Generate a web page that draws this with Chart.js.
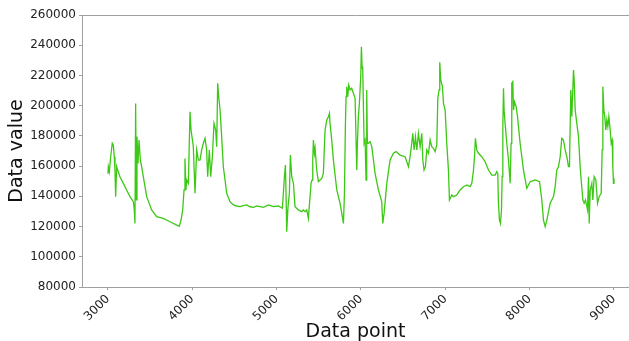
<!DOCTYPE html>
<html>
<head>
<meta charset="utf-8">
<script src="https://cdn.jsdelivr.net/npm/chart.js@4.4.1/dist/chart.umd.min.js"></script>
<style>
  html, body { margin: 0; padding: 0; background: #fff; overflow: hidden; }
  canvas { display: block; }
</style>
</head>
<body>
<canvas id="dataChart" width="629" height="341"></canvas>
<script>
// Data point index and value
const pointIndex = [
  3000, 3004, 3016, 3032, 3051, 3063, 3075, 3083, 3091, 3103, 3115, 3142, 3182, 3221, 3261, 3301,
  3312, 3320, 3328, 3336, 3344, 3356, 3368, 3384, 3399, 3419, 3459, 3518, 3577, 3656, 3735, 3815,
  3846, 3866, 3886, 3902, 3913, 3925, 3933, 3953, 3973, 3985, 4012, 4032, 4052, 4072, 4091, 4111,
  4131, 4151, 4170, 4182, 4202, 4218, 4238, 4257, 4277, 4289, 4301, 4313, 4329, 4348, 4368, 4408,
  4447, 4487, 4526, 4566, 4605, 4645, 4684, 4724, 4764, 4803, 4843, 4902, 4961, 5021, 5068, 5092,
  5104, 5115, 5119, 5135, 5151, 5163, 5179, 5199, 5218, 5258, 5297, 5317, 5337, 5357, 5376, 5396,
  5408, 5420, 5428, 5436, 5448, 5456, 5475, 5495, 5515, 5535, 5554, 5574, 5594, 5614, 5626, 5633,
  5653, 5673, 5713, 5752, 5792, 5804, 5815, 5823, 5831, 5843, 5855, 5871, 5890, 5910, 5930, 5950,
  5958, 5969, 5981, 5997, 6005, 6013, 6021, 6029, 6037, 6049, 6060, 6068, 6076, 6088, 6108, 6128,
  6148, 6167, 6207, 6246, 6258, 6274, 6306, 6345, 6385, 6416, 6464, 6523, 6543, 6563, 6582, 6602,
  6614, 6630, 6646, 6662, 6681, 6701, 6721, 6733, 6748, 6764, 6780, 6800, 6820, 6839, 6859, 6879,
  6899, 6911, 6926, 6934, 6946, 6966, 6978, 6998, 7017, 7037, 7049, 7077, 7096, 7136, 7175, 7215,
  7255, 7294, 7314, 7334, 7346, 7357, 7373, 7393, 7432, 7472, 7512, 7551, 7591, 7610, 7622, 7630,
  7642, 7654, 7666, 7674, 7682, 7690, 7697, 7709, 7729, 7749, 7769, 7780, 7788, 7800, 7808, 7820,
  7840, 7856, 7887, 7927, 7966, 8006, 8065, 8117, 8144, 8164, 8184, 8204, 8243, 8283, 8302, 8322,
  8342, 8362, 8381, 8401, 8421, 8441, 8460, 8472, 8488, 8500, 8520, 8528, 8540, 8559, 8579, 8599,
  8611, 8631, 8646, 8662, 8686, 8698, 8706, 8718, 8737, 8749, 8765, 8785, 8805, 8824, 8848, 8860,
  8868, 8880, 8891, 8903, 8915, 8927, 8939, 8955, 8967, 8979, 8986, 8994, 9000
];
const dataValues = [
  155000, 159600, 156300, 166200, 175100, 174000, 166200, 157400, 139800, 159600, 157400, 153000, 148600, 144200, 139800, 136500,
  131000, 122100, 201500, 137600, 179500, 161800, 177300, 164000, 159600, 153000, 139800, 131000, 126500, 125400, 123200, 121000,
  120300, 124300, 131000, 144200, 165100, 144200, 150800, 148600, 196000, 183900, 172900, 142000, 170700, 164000, 164000, 170700,
  175100, 178400, 170700, 153000, 170700, 153000, 166200, 188300, 183900, 172900, 214800, 205900, 197100, 179500, 159600, 142000,
  136500, 134300, 133600, 133200, 133900, 134300, 133100, 132700, 133600, 133200, 132700, 134300, 133200, 133600, 132100, 153000,
  160700, 131000, 116600, 133200, 142000, 167300, 153000, 148600, 133200, 131000, 129900, 131000, 129900, 131000, 125400, 139800,
  148600, 150800, 164000, 177300, 168500, 171800, 157400, 149700, 150800, 151900, 155200, 183900, 190500, 192700, 194900, 188300,
  177300, 164000, 144200, 135400, 122100, 142000, 186100, 205900, 212600, 205900, 213700, 210400, 211500, 208200, 204900, 157400,
  175100, 192700, 201500, 219200, 239000, 225800, 223600, 199300, 175100, 177300, 150800, 210400, 175100, 175100, 176200, 172900,
  164000, 155200, 144200, 136500, 122100, 128700, 148600, 164000, 168500, 169600, 167300, 166200, 162900, 159600, 166200, 175100,
  181700, 170700, 179500, 170700, 181700, 172900, 181700, 164000, 157400, 159600, 170700, 168500, 177300, 172900, 171800, 169600,
  174000, 204900, 210400, 228700, 217000, 212600, 201500, 197100, 175100, 157400, 137600, 140900, 139800, 140900, 144200, 146400,
  147500, 146400, 148600, 157400, 166200, 178400, 170700, 168500, 166200, 162900, 157400, 154100, 154100, 156300, 155200, 135400,
  124300, 122100, 131000, 153000, 186100, 211500, 197100, 188300, 175100, 164000, 148600, 175100, 214800, 215900, 197100, 202600,
  199300, 192700, 175100, 157400, 145300, 149700, 150800, 149700, 137600, 124300, 119900, 124300, 135400, 139800, 146400, 157400,
  159600, 166200, 178400, 177300, 170700, 166200, 159600, 159600, 210400, 192700, 223600, 217000, 197100, 188300, 179500, 159600,
  150800, 137600, 135400, 137600, 131000, 153000, 122100, 144200, 148600, 137600, 153000, 150800, 135400, 139800, 142000, 170700,
  212600, 197100, 192700, 183900, 190500, 186100, 192700, 183900, 175100, 177300, 159600, 148600, 152000
];
const yTicks = [80000, 100000, 120000, 140000, 160000, 180000, 200000, 220000, 240000, 260000];
const xTicks = [3000, 4000, 5000, 6000, 7000, 8000, 9000];

const points = pointIndex.map((x, i) => ({ x: x, y: dataValues[i] }));
const spineColor = '#a0a0a0';
const font = 'DejaVu Sans';

// top spine of the axes box; the right side is cut off in the original,
// so blank out anything drawn along the right edge of the plot area
const boxPlugin = {
  id: 'box',
  afterDraw(chart) {
    const { ctx, chartArea } = chart;
    ctx.save();
    ctx.fillStyle = '#fff';
    ctx.fillRect(chart.width - 5, chartArea.top - 2, 5, chartArea.bottom - chartArea.top + 1);
    ctx.strokeStyle = spineColor;
    ctx.lineWidth = 1;
    ctx.beginPath();
    ctx.moveTo(chartArea.left, chartArea.top + 0.5);
    ctx.lineTo(chart.width, chartArea.top + 0.5);
    ctx.stroke();
    ctx.restore();
  }
};

const ctx = document.getElementById('dataChart').getContext('2d');
new Chart(ctx, {
  type: 'line',
  data: {
    datasets: [{
      data: points,
      borderColor: 'rgb(60,200,20)',
      borderWidth: 1.3,
      pointRadius: 0,
      tension: 0,
      fill: false
    }]
  },
  options: {
    responsive: false,
    animation: false,
    parsing: false,
    layout: { padding: { top: 15, right: 0, left: 0, bottom: 0 } },
    plugins: { legend: { display: false }, tooltip: { enabled: false } },
    scales: {
      x: {
        type: 'linear',
        min: 2692,
        max: 9178,
        afterBuildTicks: (axis) => { axis.ticks = xTicks.map(v => ({ value: v })); },
        afterFit: (axis) => { axis.height = 54; },
        border: { color: spineColor, width: 1 },
        grid: { display: true, drawOnChartArea: false, tickLength: 3, color: spineColor },
        ticks: {
          minRotation: 45, maxRotation: 45, padding: 2,
          color: '#222', font: { family: font, size: 12 },
          callback: (v) => String(v)
        },
        title: {
          display: true, text: 'Data point', color: '#111',
          font: { family: font, size: 19 }, padding: { top: 0, bottom: -2 }
        }
      },
      y: {
        min: 80000,
        max: 260000,
        afterBuildTicks: (axis) => { axis.ticks = yTicks.map(v => ({ value: v })); },
        afterFit: (axis) => { axis.width = 82; },
        border: { color: spineColor, width: 1 },
        grid: { display: true, drawOnChartArea: false, tickLength: 3, color: spineColor },
        ticks: {
          padding: 3, color: '#222', font: { family: font, size: 12 },
          callback: (v) => String(v)
        },
        title: {
          display: true, text: 'Data value', color: '#111',
          font: { family: font, size: 19 }, padding: { top: 6, bottom: 0 }
        }
      }
    }
  },
  plugins: [boxPlugin]
});
</script>
</body>
</html>
